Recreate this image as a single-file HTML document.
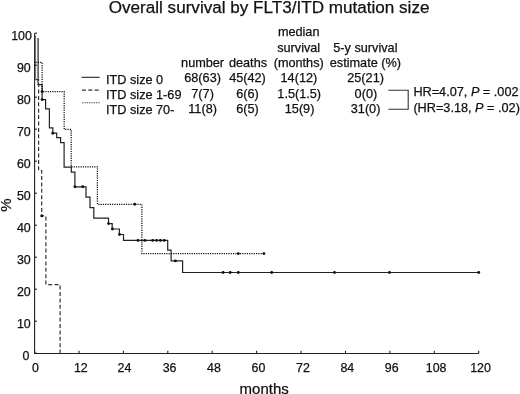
<!DOCTYPE html>
<html><head><meta charset="utf-8"><style>
html,body{margin:0;padding:0;background:#fff;}
body{width:520px;height:394px;overflow:hidden;}
svg{display:block;will-change:transform;font-family:"Liberation Sans",sans-serif;}
text{stroke:#111;stroke-width:0.25px;}
</style></head><body>
<svg width="520" height="394" viewBox="0 0 520 394">
<rect width="520" height="394" fill="#fff"/>
<text x="269.1" y="13.3" font-size="17.1" text-anchor="middle" fill="#111">Overall survival by FLT3/ITD mutation size</text>
<line x1="35.6" y1="35.5" x2="35.6" y2="79.7" stroke="#777" stroke-width="1"/>
<g stroke="#222" stroke-width="1.1" fill="none">
<polyline points="34.6,33.2 34.6,353.5 478.7,353.5"/>
<line x1="34.6" y1="353.2" x2="37" y2="353.2"/><line x1="34.6" y1="321.2" x2="37" y2="321.2"/><line x1="34.6" y1="289.2" x2="37" y2="289.2"/><line x1="34.6" y1="257.2" x2="37" y2="257.2"/><line x1="34.6" y1="225.2" x2="37" y2="225.2"/><line x1="34.6" y1="193.2" x2="37" y2="193.2"/><line x1="34.6" y1="161.2" x2="37" y2="161.2"/><line x1="34.6" y1="129.2" x2="37" y2="129.2"/><line x1="34.6" y1="97.2" x2="37" y2="97.2"/><line x1="34.6" y1="65.2" x2="37" y2="65.2"/><line x1="34.6" y1="33.2" x2="37" y2="33.2"/>
<line x1="34.6" y1="353.5" x2="34.6" y2="350.8"/><line x1="79.0" y1="353.5" x2="79.0" y2="350.8"/><line x1="123.4" y1="353.5" x2="123.4" y2="350.8"/><line x1="167.8" y1="353.5" x2="167.8" y2="350.8"/><line x1="212.2" y1="353.5" x2="212.2" y2="350.8"/><line x1="256.6" y1="353.5" x2="256.6" y2="350.8"/><line x1="301.1" y1="353.5" x2="301.1" y2="350.8"/><line x1="345.5" y1="353.5" x2="345.5" y2="350.8"/><line x1="389.9" y1="353.5" x2="389.9" y2="350.8"/><line x1="434.3" y1="353.5" x2="434.3" y2="350.8"/><line x1="478.7" y1="353.5" x2="478.7" y2="350.8"/>
</g>
<g font-size="12.4" fill="#111" text-anchor="end"><text x="29.4" y="359.9">0</text><text x="30.7" y="327.9">10</text><text x="30.7" y="295.9">20</text><text x="30.7" y="263.9">30</text><text x="30.7" y="231.9">40</text><text x="30.7" y="199.9">50</text><text x="30.7" y="167.9">60</text><text x="30.7" y="135.9">70</text><text x="30.7" y="103.9">80</text><text x="30.7" y="71.9">90</text><text x="31.9" y="39.9">100</text></g>
<g font-size="12.4" fill="#111" text-anchor="middle"><text x="35.4" y="371.5">0</text><text x="80.8" y="371.5">12</text><text x="124.5" y="371.5">24</text><text x="169.6" y="371.5">36</text><text x="214.0" y="371.5">48</text><text x="258.4" y="371.5">60</text><text x="302.9" y="371.5">72</text><text x="347.3" y="371.5">84</text><text x="391.7" y="371.5">96</text><text x="436.1" y="371.5">108</text><text x="480.5" y="371.5">120</text>
<text x="264.2" y="393.6" font-size="15">months</text>
</g>
<text x="0" y="0" font-size="15" fill="#111" text-anchor="middle" transform="translate(10.7,205.1) rotate(-90)">%</text>
<g fill="none" stroke-linejoin="miter" stroke-linecap="butt">
<polyline points="38.1,38.1 38.1,84.7 42.1,84.7 42.1,99.6 45.6,99.6 45.6,108.8 49.4,108.8 49.4,127.9 52.8,127.9 52.8,133.2 56.7,133.2 56.7,137.7 60.6,137.7 60.6,142.6 64.1,142.6 64.1,167.2 71.3,167.2 71.3,172.2 74.9,172.2 74.9,186.8 86.0,186.8 86.0,197.2 90.0,197.2 90.0,207.7 93.8,207.7 93.8,218.2 108.5,218.2 108.5,223.6 112.2,223.6 112.2,229.0 119.4,229.0 119.4,234.5 123.5,234.5 123.5,240.4 167.7,240.4 167.7,250.1 171.1,250.1 171.1,260.9 182.6,260.9 182.6,272.5 478.7,272.5" stroke="#222" stroke-width="1.2"/>
<polyline points="35.6,79.7 38.6,79.7 38.6,170.5 41.7,170.5 41.7,215.9 45.9,215.9 45.9,284.7 60.1,284.7 60.1,353.2" stroke="#333" stroke-width="1.2" stroke-dasharray="4,2.4"/>
<polyline points="35.6,62.3 42.1,62.3 42.1,91.6 64.2,91.6 64.2,129.3 71.2,129.3 71.2,166.9 97.4,166.9 97.4,204.3 141.9,204.3 141.9,253.6 263.9,253.6" stroke="#111" stroke-width="1.25" stroke-dasharray="1.2,1.1"/>
</g>
<g fill="#111"><circle cx="42.1" cy="99.6" r="1.45"/><circle cx="52.8" cy="133.2" r="1.45"/><circle cx="74.9" cy="186.8" r="1.45"/><circle cx="82.8" cy="186.8" r="1.45"/><circle cx="108.5" cy="223.6" r="1.45"/><circle cx="112.4" cy="229.0" r="1.45"/><circle cx="119.5" cy="234.5" r="1.45"/><circle cx="138.0" cy="240.4" r="1.45"/><circle cx="144.9" cy="240.4" r="1.45"/><circle cx="152.7" cy="240.4" r="1.45"/><circle cx="156.6" cy="240.4" r="1.45"/><circle cx="160.4" cy="240.4" r="1.45"/><circle cx="164.2" cy="240.4" r="1.45"/><circle cx="175.4" cy="260.9" r="1.45"/><circle cx="223.1" cy="272.5" r="1.45"/><circle cx="230.2" cy="272.5" r="1.45"/><circle cx="238.3" cy="272.5" r="1.45"/><circle cx="271.7" cy="272.5" r="1.45"/><circle cx="334.5" cy="272.5" r="1.45"/><circle cx="389.5" cy="272.5" r="1.45"/><circle cx="478.7" cy="272.5" r="1.45"/><circle cx="41.7" cy="215.9" r="1.45"/><circle cx="42.1" cy="91.6" r="1.45"/><circle cx="134.8" cy="204.3" r="1.45"/><circle cx="238.3" cy="253.6" r="1.45"/><circle cx="263.9" cy="253.6" r="1.45"/></g>
<g stroke-width="1.1" fill="none">
<line x1="81.5" y1="77.3" x2="99.7" y2="77.3" stroke="#222"/>
<line x1="81.9" y1="90.1" x2="99.6" y2="90.1" stroke="#333" stroke-dasharray="4,2.4"/>
<line x1="82.3" y1="102.7" x2="99.6" y2="102.7" stroke="#333" stroke-dasharray="1.2,1.1"/>
</g>
<g font-size="12.7" fill="#111">
<text x="106" y="83.5">ITD size 0</text>
<text x="106" y="99">ITD size 1-69</text>
<text x="106" y="114.3">ITD size 70-</text>
</g>
<g font-size="12.7" fill="#111" text-anchor="middle">
<text x="202.6" y="66.8">number</text>
<text x="248" y="66.8">deaths</text>
<text x="298.7" y="36.4">median</text>
<text x="298.7" y="51.6">survival</text>
<text x="298.7" y="66.8">(months)</text>
<text x="365.4" y="51.6">5-y survival</text>
<text x="365.4" y="66.8">estimate (%)</text>
<text x="202.6" y="82.2">68(63)</text>
<text x="247.5" y="82.2">45(42)</text>
<text x="298.9" y="82.2">14(12)</text>
<text x="365.6" y="82.2">25(21)</text>
<text x="202.6" y="97.6">7(7)</text>
<text x="247.5" y="97.6">6(6)</text>
<text x="299.2" y="97.6">1.5(1.5)</text>
<text x="365.9" y="97.6">0(0)</text>
<text x="202.6" y="113.3">11(8)</text>
<text x="247.5" y="113.3">6(5)</text>
<text x="299.6" y="113.3">15(9)</text>
<text x="365.6" y="113.3">31(0)</text>
</g>
<polyline points="388.3,90.2 408.2,90.2 408.2,109.2 388.3,109.2" fill="none" stroke="#333" stroke-width="1.1"/>
<g font-size="12.7" fill="#111">
<text x="413.4" y="96.3">HR=4.07, <tspan font-style="italic">P</tspan> = .002</text>
<text x="413.4" y="111.8">(HR=3.18, <tspan font-style="italic">P</tspan> = .02)</text>
</g>
</svg>
</body></html>
